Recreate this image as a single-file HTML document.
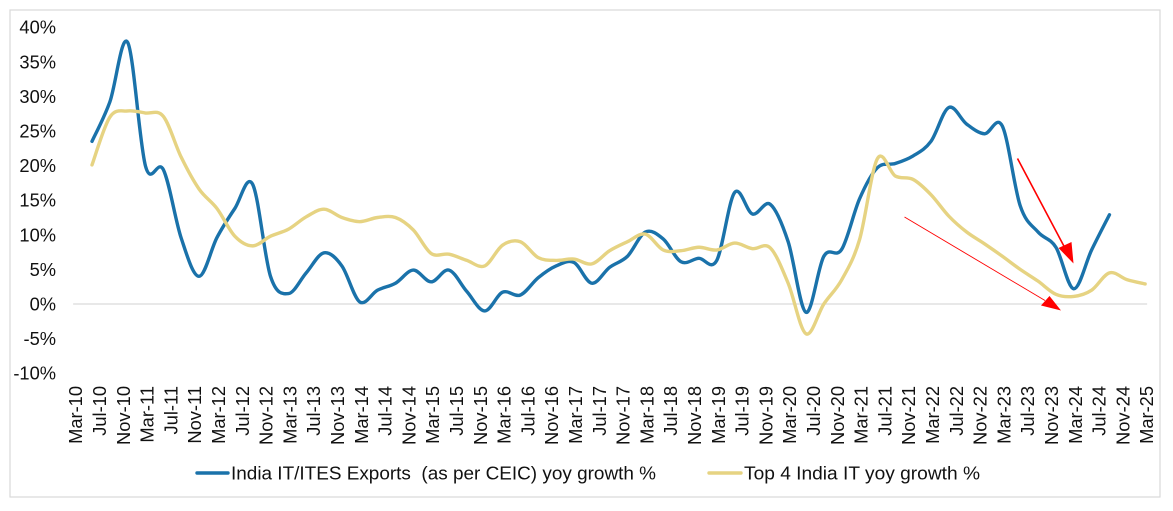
<!DOCTYPE html>
<html lang="en">
<head>
<meta charset="utf-8">
<title>India IT exports growth chart</title>
<style>
html,body{margin:0;padding:0;background:#fff;}
body{width:1173px;height:511px;overflow:hidden;}
svg{display:block;font-family:"Liberation Sans",Arial,sans-serif;}
text{fill:#111;font-size:18.3px;}
</style>
</head>
<body>
<svg id="chart" width="1173" height="511" viewBox="0 0 1173 511" xmlns="http://www.w3.org/2000/svg">
  <rect x="10" y="10" width="1150" height="487" fill="#fff" stroke="#d9d9d9" stroke-width="1.2"/>
  <line id="zero" stroke="#d9d9d9" stroke-width="1.2"/>
  <g id="yTicks"></g>
  <g id="xTicks"></g>
  <path id="exportsLine" fill="none" stroke="#1a72aa" stroke-width="3.4" stroke-linecap="round" stroke-linejoin="round"/>
  <path id="top4Line" fill="none" stroke="#e6d382" stroke-width="3.4" stroke-linecap="round" stroke-linejoin="round"/>
  <g>
    <line x1="1017.5" y1="158.5" x2="1066" y2="250" stroke="#f00" stroke-width="1.6"/>
    <polygon points="1073.5,263.5 1058.5,248 1071.5,242" fill="#f00"/>
  </g>
  <g>
    <line x1="904.5" y1="217" x2="1045" y2="300.5" stroke="#f00" stroke-width="0.9"/>
    <polygon points="1061,310.5 1041,305.5 1049.5,296" fill="#f00"/>
  </g>
  <g>
    <g>
      <line x1="197" y1="473" x2="228" y2="473" stroke="#1a72aa" stroke-width="3.4" stroke-linecap="round"/>
      <text x="231" y="479.5" textLength="425" lengthAdjust="spacingAndGlyphs" xml:space="preserve">India IT/ITES Exports  (as per CEIC) yoy growth %</text>
    </g>
    <g>
      <line x1="709" y1="473" x2="741" y2="473" stroke="#e6d382" stroke-width="3.4" stroke-linecap="round"/>
      <text x="744" y="479.5" textLength="236" lengthAdjust="spacingAndGlyphs">Top 4 India IT yoy growth %</text>
    </g>
  </g>
</svg>
<script>
const xLabels = ["Mar-10","Jul-10","Nov-10","Mar-11","Jul-11","Nov-11","Mar-12","Jul-12","Nov-12","Mar-13","Jul-13","Nov-13","Mar-14","Jul-14","Nov-14","Mar-15","Jul-15","Nov-15","Mar-16","Jul-16","Nov-16","Mar-17","Jul-17","Nov-17","Mar-18","Jul-18","Nov-18","Mar-19","Jul-19","Nov-19","Mar-20","Jul-20","Nov-20","Mar-21","Jul-21","Nov-21","Mar-22","Jul-22","Nov-22","Mar-23","Jul-23","Nov-23","Mar-24","Jul-24","Nov-24","Mar-25"];
const yValues = [40,35,30,25,20,15,10,5,0,-5,-10];
const exportsGrowth = [23.5,29.2,37.8,19.9,19.4,9.5,4,9.6,13.8,17.3,4,1.5,4.5,7.4,5.5,0.3,2,3,4.9,3.2,4.9,1.8,-1,1.7,1.3,3.8,5.5,6,3,5.3,6.9,10.4,9.4,6.1,6.6,6.3,16.1,13,14.4,9,-1.2,6.9,7.9,15.2,19.7,20.3,21.4,23.5,28.4,26,24.6,25.7,14.2,10.4,8.2,2.2,7.8,12.9];
const top4Growth = [20.1,27,27.9,27.6,27.1,21.2,16.6,13.8,9.8,8.4,9.8,10.8,12.6,13.7,12.5,11.9,12.5,12.5,10.7,7.3,7.2,6.3,5.5,8.5,9,6.7,6.3,6.5,5.8,7.7,9,10.1,7.8,7.7,8.2,7.8,8.8,8,8.1,3,-4.3,0,3.5,9.3,21,18.5,18,15.8,12.7,10.4,8.7,6.9,5,3.3,1.4,1.1,2,4.5,3.5,2.9];

const SVGNS = "http://www.w3.org/2000/svg";
const MONTHS_PER_LABEL = 4;
const MONTHS_PER_POINT = 3;
const FIRST_POINT_MONTH = 3;

function xScale(month){ return 74.15 + 5.95 * month; }
function yScale(value){ return 304 - 6.92 * value; }
function pointMonth(i){ return FIRST_POINT_MONTH + i * MONTHS_PER_POINT; }

function smoothPath(values){
  const pts = values.map(function(v,i){ return [xScale(pointMonth(i)), yScale(v)]; });
  let d = "M" + pts[0][0].toFixed(2) + " " + pts[0][1].toFixed(2);
  for (let i = 0; i < pts.length - 1; i++){
    const p0 = pts[Math.max(i-1,0)], p1 = pts[i], p2 = pts[i+1], p3 = pts[Math.min(i+2,pts.length-1)];
    const c1x = p1[0] + (p2[0]-p0[0])/6, c1y = p1[1] + (p2[1]-p0[1])/6;
    const c2x = p2[0] - (p3[0]-p1[0])/6, c2y = p2[1] - (p3[1]-p1[1])/6;
    d += "C" + c1x.toFixed(2) + " " + c1y.toFixed(2) + " " + c2x.toFixed(2) + " " + c2y.toFixed(2) + " " + p2[0].toFixed(2) + " " + p2[1].toFixed(2);
  }
  return d;
}

const zero = document.getElementById("zero");
zero.setAttribute("x1", xScale(0) - 1);
zero.setAttribute("x2", xScale((xLabels.length - 1) * MONTHS_PER_LABEL) + 2);
zero.setAttribute("y1", yScale(0));
zero.setAttribute("y2", yScale(0));

const yGroup = document.getElementById("yTicks");
yValues.forEach(function(v){
  const t = document.createElementNS(SVGNS, "text");
  
  
  t.setAttribute("x", 56);
  t.setAttribute("y", yScale(v) + 6.5);
  t.setAttribute("text-anchor", "end");
  t.textContent = v + "%";
  yGroup.appendChild(t);
});

const xGroup = document.getElementById("xTicks");
xLabels.forEach(function(label, k){
  const t = document.createElementNS(SVGNS, "text");
  
  
  const px = xScale(k * MONTHS_PER_LABEL) + 8;
  t.setAttribute("transform", "translate(" + px.toFixed(2) + " 386) rotate(-90)");
  t.setAttribute("text-anchor", "end");
  t.textContent = label;
  xGroup.appendChild(t);
});

document.getElementById("exportsLine").setAttribute("d", smoothPath(exportsGrowth));
document.getElementById("top4Line").setAttribute("d", smoothPath(top4Growth));
</script>
</body>
</html>
